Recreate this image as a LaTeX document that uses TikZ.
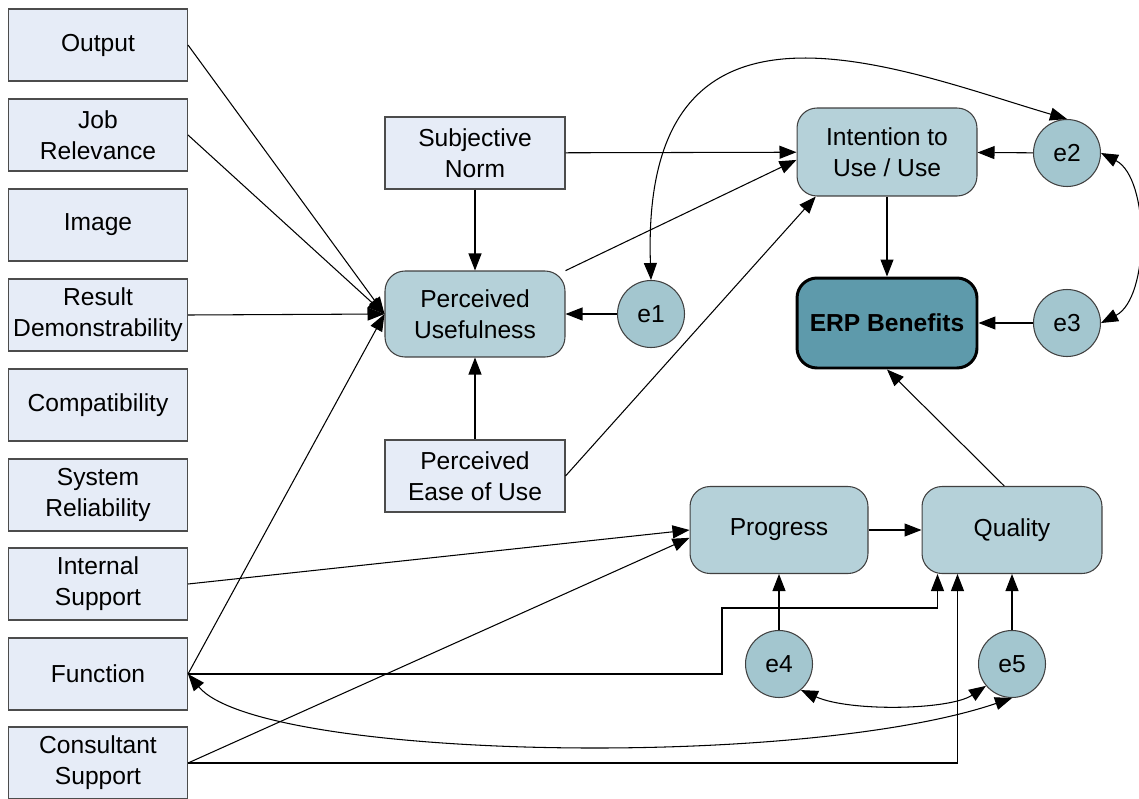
\documentclass[tikz,border=0pt]{standalone}
\usepackage{fontspec}
\setmainfont{Liberation Sans}
\usetikzlibrary{arrows.meta}

\definecolor{boxfill}{RGB}{230,236,247}
\definecolor{latfill}{RGB}{181,209,217}
\definecolor{errfill}{RGB}{163,198,207}
\definecolor{erpfill}{RGB}{94,154,171}

\begin{document}
\begin{tikzpicture}[x=0.02cm,y=-0.02cm,line width=0.6pt,
    font=\fontsize{14}{17.5}\selectfont,
    >={Triangle[length=0.34cm,width=0.26cm]},
    indicator/.style={draw=black!70,fill=boxfill,minimum width=3.58cm,
      minimum height=1.44cm,align=center,inner sep=1pt},
    construct/.style={draw=black!75,fill=latfill,rounded corners=0.4cm,
      minimum width=3.6cm,minimum height=1.74cm,align=center},
    error/.style={circle,draw=black!75,fill=errfill,minimum size=1.34cm,
      inner sep=0pt}]
  \useasboundingbox (0,0) rectangle (1139,798);

  % left column
  \node[indicator] (out) at (98,45) {Output};
  \node[indicator] (job) at (98,135) {Job\\Relevance};
  \node[indicator] (img) at (98,225) {Image};
  \node[indicator] (res) at (98,315) {Result\\Demonstrability};
  \node[indicator] (comp) at (98,405) {Compatibility};
  \node[indicator] (rel) at (98,495) {System\\Reliability};
  \node[indicator] (intsup) at (98,584) {Internal\\Support};
  \node[indicator] (func) at (98,674) {Function};
  \node[indicator] (cons) at (98,763) {Consultant\\Support};

  % TAM part
  \node[indicator,minimum width=3.6cm] (sn) at (475,153) {Subjective\\Norm};
  \node[indicator,minimum width=3.6cm] (peou) at (475,476) {Perceived\\Ease of Use};
  \node[construct,minimum height=1.72cm] (pu) at (475,314) {Perceived\\Usefulness};
  \node[construct,minimum height=1.76cm] (itu) at (887,152) {Intention to\\Use / Use};
  \node[construct,minimum height=1.8cm,fill=erpfill,draw=black,line width=1.7pt,
    font=\fontsize{14}{17.5}\selectfont\bfseries] (erp) at (887,323) {ERP Benefits};
  \node[construct,minimum width=3.56cm] (prog) at (779,530) {Progress};
  \node[construct] (qual) at (1012,530) {Quality};

  \node[error] (e1) at (651,314) {e1};
  \node[error] (e2) at (1067,153) {e2};
  \node[error] (e3) at (1067,323) {e3};
  \node[error] (e4) at (779,664) {e4};
  \node[error] (e5) at (1012,664) {e5};

  % paths
  \draw[->] (out.east) -- (pu.west);
  \draw[->] (job.east) -- (pu.west);
  \draw[->] (res.east) -- (pu.west);
  \draw[->] (func.east) -- (pu.west);
  \draw[->] (sn) -- (pu);
  \draw[->] (peou) -- (pu);
  \draw[->] (sn) -- (itu);
  \draw[->] (pu) -- (itu.185);
  \draw[->] (peou.east) -- (itu.212);
  \draw[->] (e1) -- (pu);
  \draw[->] (e2) -- (itu);
  \draw[->] (e3) -- (erp);
  \draw[->] (itu) -- (erp);
  \draw[->] (qual.100) -- (erp.south);
  \draw[->] (prog) -- (qual);
  \draw[->] (e4) -- (prog);
  \draw[->] (e5) -- (qual);
  \draw[->] (intsup.east) -- (prog.west);
  \draw[->] (cons.east) -- (prog.185);
  \draw[->] (func.east) -| (722,608) -| ([xshift=0.32cm]qual.south west);
  \draw[->] (cons.east) -| ([xshift=0.72cm]qual.south west);

  % covariances
  \draw[<->] (e1.north) .. controls (640,-40) and (900,70) .. (e2.north);
  \draw[<->] (e2.east) .. controls +(49,25) and +(49,-25) .. (e3.east);
  \draw[<->] (e4.-50) .. controls (850,712) and (950,710) .. (e5.-140);
  \draw[<->] (func.east) .. controls (260,760) and (800,770) .. (e5.south);
\end{tikzpicture}
\end{document}
